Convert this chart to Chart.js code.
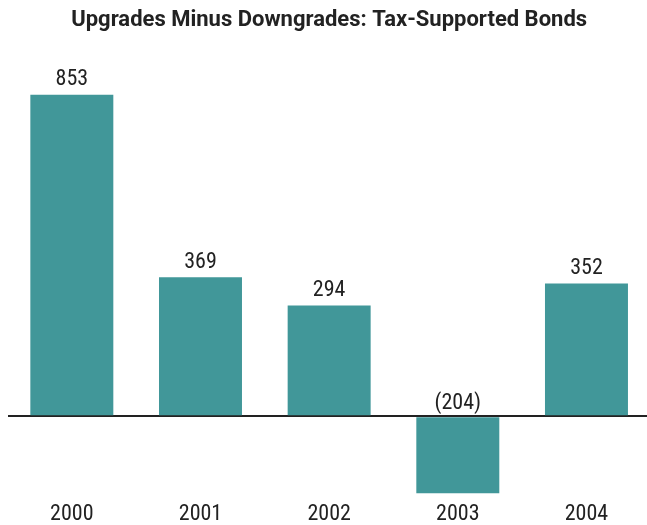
<!DOCTYPE html>
<html>
<head>
<meta charset="utf-8">
<script src="https://cdn.jsdelivr.net/npm/chart.js@4"></script>
<style>
html,body{margin:0;padding:0;background:#fff;overflow:hidden;}
#wrap{width:652px;height:525px;}
</style>
</head>
<body>
<div id="wrap"><canvas id="c" width="652" height="525"></canvas></div>
<script>
const categories = ['2000', '2001', '2002', '2003', '2004'];
const values = [853, 369, 294, -204, 352];
const valueLabels = ['853', '369', '294', '(204)', '352'];
const titleText = 'Upgrades Minus Downgrades: Tax-Supported Bonds';

const FONT = "'Roboto Condensed', 'Liberation Sans Narrow', 'DejaVu Sans Condensed', sans-serif";
const TITLE_FONT = "Roboto, 'Liberation Sans', sans-serif";

const labelPlugin = {
  id: 'valueLabels',
  afterDatasetsDraw(chart) {
    const ctx = chart.ctx;
    const meta = chart.getDatasetMeta(0);
    const yScale = chart.scales.y;
    const zeroY = yScale.getPixelForValue(0);
    ctx.save();
    ctx.font = '22px ' + FONT;
    ctx.fillStyle = '#222';
    ctx.textAlign = 'center';
    ctx.textBaseline = 'alphabetic';
    meta.data.forEach((bar, i) => {
      const v = values[i];
      const topY = v >= 0 ? bar.y : zeroY;
      ctx.fillText(valueLabels[i], bar.x, topY - (v >= 0 ? 9.5 : 7));
    });
    ctx.restore();
  }
};

new Chart(document.getElementById('c'), {
  type: 'bar',
  data: {
    labels: categories,
    datasets: [{
      data: values,
      backgroundColor: '#419799',
      borderWidth: 0,
      categoryPercentage: 1.0,
      barPercentage: 0.645
    }]
  },
  options: {
    responsive: false,
    animation: false,
    layout: { padding: { left: 7.5, right: 1.2, top: 0, bottom: 0 } },
    plugins: {
      legend: { display: false },
      tooltip: { enabled: false },
      title: {
        display: true,
        text: titleText,
        color: '#222',
        font: { family: TITLE_FONT, size: 22, weight: 'bold', lineHeight: 1.2 },
        padding: { top: 7, bottom: 43.6 }
      }
    },
    scales: {
      x: {
        grid: { display: false, drawTicks: false },
        border: { display: false },
        ticks: {
          color: '#222',
          padding: 0,
          font: { family: FONT, size: 22, lineHeight: 1.0 }
        }
      },
      y: {
        min: -230,
        max: 900,
        grid: {
          drawTicks: false,
          color: (c) => (c.tick && c.tick.value === 0) ? '#222' : 'rgba(0,0,0,0)',
          lineWidth: 2
        },
        border: { display: false },
        ticks: { display: false, stepSize: 10 }
      }
    }
  },
  plugins: [labelPlugin]
});
</script>
</body>
</html>
